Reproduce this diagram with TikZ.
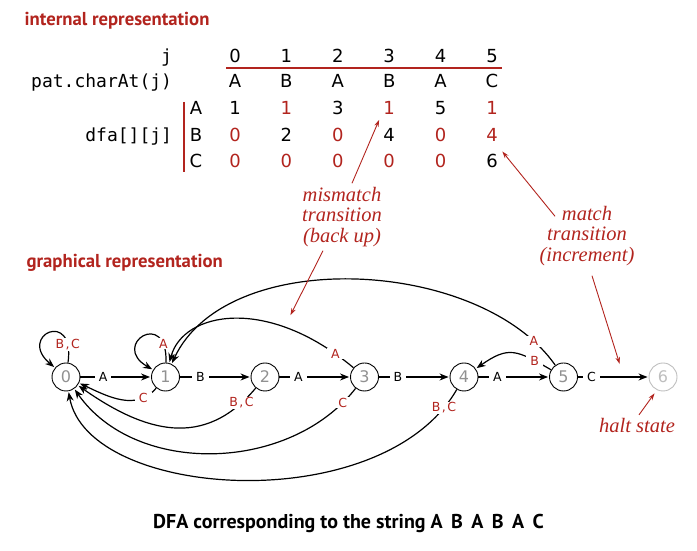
\documentclass[tikz,border=0pt]{standalone}
\usepackage{fontspec}
\setmainfont{Liberation Serif}
\setsansfont{PT Sans}
\setmonofont{DejaVu Sans Mono}
\newfontfamily\glyphfont{DejaVu Sans}
\usetikzlibrary{automata,positioning,arrows.meta,calc}

\definecolor{bookred}{RGB}{178,36,30}
\definecolor{stategray}{RGB}{145,145,145}
\definecolor{haltgray}{RGB}{190,190,190}

\newcommand{\bc}{B\kern1.5pt,\kern1.5pt C}

\tikzset{
  every state/.style={draw=black, line width=0.9pt, minimum size=28pt, inner sep=0pt,
    text=stategray, font=\glyphfont\fontsize{16}{16}\selectfont},
  sym/.style={fill=white, inner xsep=4pt, inner ysep=1pt, text=black,
    font=\glyphfont\fontsize{12.5}{12.5}\selectfont},
  back/.style={sym, text=bookred},
  entry/.style={anchor=base, font=\glyphfont\fontsize{18}{18}\selectfont},
  code/.style={anchor=base east, font=\ttfamily\fontsize{18}{18}\selectfont},
  note/.style={draw=bookred, line width=0.9pt, -{Stealth[length=7pt,width=4.5pt]}, shorten >=1pt},
  notetext/.style={text=bookred, font=\itshape\fontsize{20.5}{20.5}\selectfont, align=center},
  heading/.style={anchor=base west, text=bookred, font=\sffamily\bfseries\fontsize{18.7}{18.7}\selectfont},
}

\begin{document}
\begin{tikzpicture}[x=1pt, y=1pt, shorten >=1pt, node distance=99.5pt, on grid,
    >={Stealth[length=9pt,width=7pt]}, line width=1.2pt]
  \useasboundingbox (0,0) rectangle (697,551);

  % table
  \node[heading] (internal) at (20.7,525) {internal representation};
  \node[code] (jlabel)   at (176,488) {j};
  \node[code] (patlabel) at (176,463) {pat.charAt(j)};
  \node[code] (dfalabel) at (176,409) {dfa[][j]};
  \foreach \i in {0,...,5}
    \node[entry] (j\i) at ({235+51.4*\i},488) {\i};
  \foreach \c [count=\i from 0] in {A,B,A,B,A,C}
    \node[entry] (p\i) at ({235+51.4*\i},463) {\c};
  \draw[bookred, line width=1.6pt] (226,483) -- (503,483);
  \draw[bookred, line width=1.2pt] (184,449) -- (184,378);
  \foreach \r/\y in {A/436,B/409,C/383}
    \node[entry] (row\r) at (196,\y) {\r};
  \foreach \v/\c [count=\i from 0] in {1/black,1/bookred,3/black,1/bookred,5/black,1/bookred}
    \node[entry, text=\c] (A\i) at ({235+51.4*\i},436) {\v};
  \foreach \v/\c [count=\i from 0] in {0/bookred,2/black,0/bookred,4/black,0/bookred,4/bookred}
    \node[entry, text=\c] (B\i) at ({235+51.4*\i},409) {\v};
  \foreach \v/\c [count=\i from 0] in {0/bookred,0/bookred,0/bookred,0/bookred,0/bookred,6/black}
    \node[entry, text=\c] (C\i) at ({235+51.4*\i},383) {\v};

  % annotations
  \node[notetext] (mis) at (342,334) {mismatch\\transition\\(back up)};
  \node[notetext] (inc) at (587,315) {match\\transition\\(increment)};
  \node[notetext, anchor=base] (halt) at (637,118) {halt state};
  \coordinate (backtip)  at (290,235);
  \coordinate (matchtip) at (620,186);

  % dfa
  \node[heading] (graphical) at (22.7,283) {graphical representation};
  \node[state] (0) at (66,174) {0};
  \node[state] (1) [right=of 0] {1};
  \node[state] (2) [right=of 1] {2};
  \node[state] (3) [right=of 2] {3};
  \node[state] (4) [right=of 3] {4};
  \node[state] (5) [right=of 4] {5};
  \node[state, draw=haltgray, text=haltgray] (6) [right=of 5] {6};

  \path[->]
    (0) edge node[sym, pos=0.32] {A} (1)
    (1) edge node[sym, pos=0.29] {B} (2)
    (2) edge node[sym, pos=0.27] {A} (3)
    (3) edge node[sym, pos=0.27] {B} (4)
    (4) edge node[sym, pos=0.27] {A} (5)
    (5) edge node[sym, pos=0.19] {C} (6);

  \path[->]
    (0) edge [out=82, in=140, out distance=55pt, in distance=50pt] node[back, pos=0.14] {\bc} (0)
    (1) edge [out=88, in=150, out distance=55pt, in distance=50pt] node[back, pos=0.15] {A} (1)
    (1) edge [out=230, in=-25, distance=31pt]  node[back, pos=0.2]  {C}   (0)
    (2) edge [out=230, in=-35, distance=81pt]  node[back, pos=0.09] {\bc} (0)
    (3) edge [out=232, in=-55, distance=107pt] node[back, pos=0.06] {C}   (0)
    (4) edge [out=240, in=-80, out distance=150pt, in distance=110pt] node[back, pos=0.05] {\bc} (0)
    (3) edge [out=140, in=75, out distance=113pt, in distance=53pt] node[back, pos=0.07] {A} (1)
    (5) edge [out=125, in=65, distance=131pt] node[back, pos=0.08] {A} (1)
    (5) edge [out=150, in=35, distance=40pt]  node[back, pos=0.18] {B} (4);

  \draw[note] ([xshift=10pt]mis.north) -- (A3.south west);
  \draw[note] ([xshift=-19pt]mis.south) -- (backtip);
  \draw[note] ([shift={(-32pt,-14pt)}]inc.north) -- (C5.north east);
  \draw[note] ([shift={(5pt,-6pt)}]inc.south) -- (matchtip);
  \draw[note, shorten >=4pt] ([xshift=2pt]halt.north) -- (6.245);

  \node[anchor=base, font=\sffamily\bfseries\fontsize{20}{20}\selectfont] (caption) at (348.5,22)
    {DFA corresponding to the string A\, B\, A\, B\, A\, C};
\end{tikzpicture}
\end{document}
